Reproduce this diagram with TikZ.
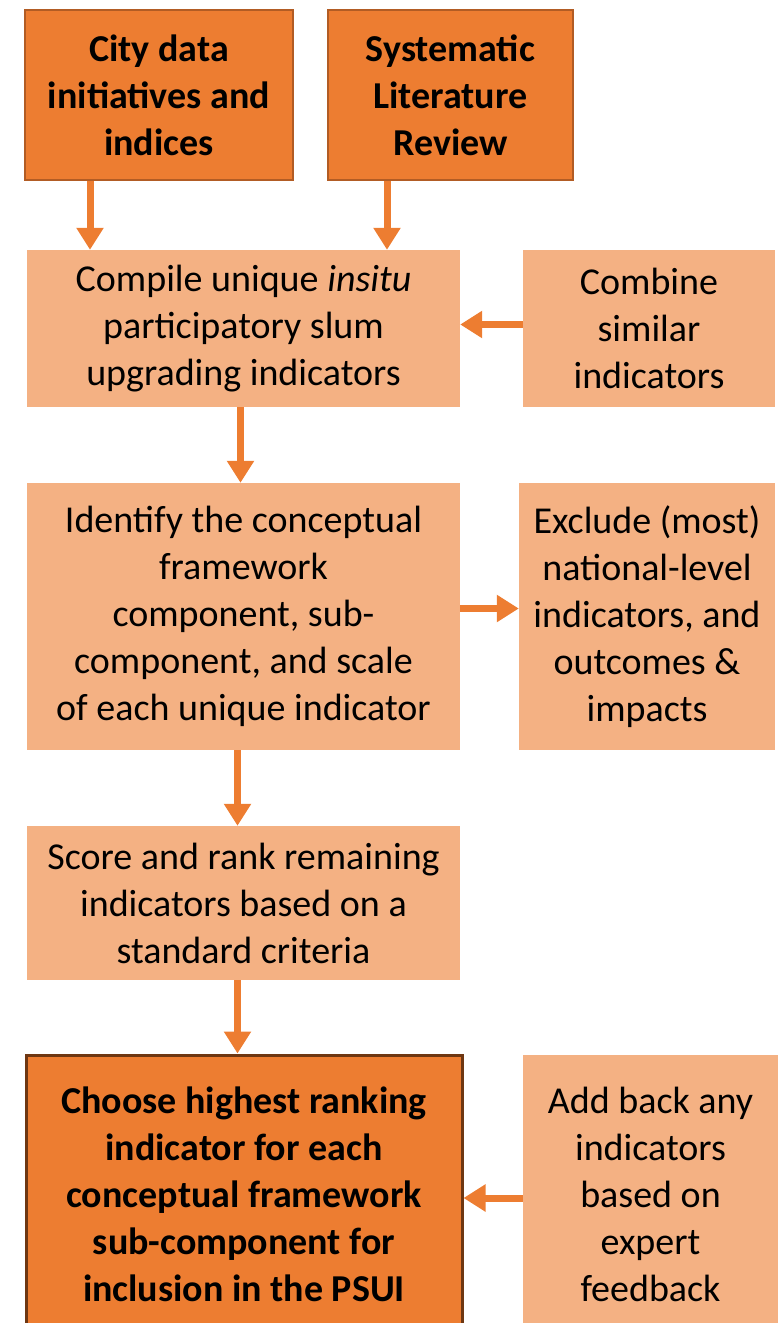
\documentclass[tikz,border=0pt]{standalone}
\usepackage{fontspec}
\setmainfont{Carlito}
\usetikzlibrary{arrows.meta,positioning}
\definecolor{darkorange}{RGB}{237,125,49}
\definecolor{lightorange}{RGB}{244,177,131}
\definecolor{rimbrown}{RGB}{178,92,36}
\definecolor{deepbrown}{RGB}{110,55,18}

\begin{document}
\begin{tikzpicture}[x=1pt,y=-1pt,
  every node/.style={align=center,inner sep=0pt,font=\fontsize{38}{47}\selectfont},
  source/.style={fill=darkorange,draw=rimbrown,line width=2.5pt,font=\bfseries\fontsize{38}{47}\selectfont},
  stepbox/.style={fill=lightorange},
  goal/.style={fill=darkorange,draw=deepbrown,line width=3pt,font=\bfseries\fontsize{38}{47}\selectfont},
  flow/.style={darkorange,line width=7pt,-{Triangle[width=26pt,length=22pt]}}]
\clip (0,0) rectangle (782,1323);
\node [source,minimum width=268pt,minimum height=170pt] (CityData) at (159,95) {City data\\initiatives and\\indices};
\node [source,minimum width=245pt,minimum height=170pt] (LitReview) at (450.5,95) {Systematic\\Literature\\Review};
\node [stepbox,minimum width=433pt,minimum height=157pt] (Compile) at (243.5,328.5) {Compile unique \textit{insitu}\\participatory slum\\upgrading indicators};
\node [stepbox,minimum width=252pt,minimum height=157pt] (Combine) at (649,328.5) {Combine\\similar\\indicators};
\node [stepbox,minimum width=433pt,minimum height=267pt] (Identify) at (243.5,616.5) {Identify the conceptual\\framework\\component, sub-\\component, and scale\\of each unique indicator};
\node [stepbox,minimum width=256pt,minimum height=267pt] (Exclude) at (647,616.5) {Exclude (most)\\national-level\\indicators, and\\outcomes \&\\impacts};
\node [stepbox,minimum width=433pt,minimum height=154pt] (Score) at (243.5,903) {Score and rank remaining\\indicators based on a\\standard criteria};
\node [goal,minimum width=436pt,minimum height=278pt] (Choose) at (244,1194) {Choose highest ranking\\indicator for each\\conceptual framework\\sub-component for\\inclusion in the PSUI};
\node [stepbox,minimum width=255pt,minimum height=278pt] (AddBack) at (650.5,1194) {Add back any\\indicators\\based on\\expert\\feedback};
\draw [flow] ([xshift=-69pt]CityData.south) -- ([xshift=-69pt]CityData.south |- Compile.north);
\draw [flow] ([xshift=-63.5pt]LitReview.south) -- ([xshift=-63.5pt]LitReview.south |- Compile.north);
\draw [flow] ([yshift=4pt]Combine.west) -- ([yshift=4pt]Combine.west -| Compile.east);
\draw [flow] ([xshift=-3pt]Compile.south) -- ([xshift=-3pt]Compile.south |- Identify.north);
\draw [flow] ([yshift=8pt]Identify.east) -- ([yshift=8pt]Identify.east -| Exclude.west);
\draw [flow] ([xshift=-6pt]Identify.south) -- ([xshift=-6pt]Identify.south |- Score.north);
\draw [flow] ([xshift=-6pt]Score.south) -- ([xshift=-6pt]Score.south |- Choose.north);
\draw [flow] ([yshift=-4pt]AddBack.west) -- ([yshift=-4pt]AddBack.west -| Choose.east);
\end{tikzpicture}
\end{document}
